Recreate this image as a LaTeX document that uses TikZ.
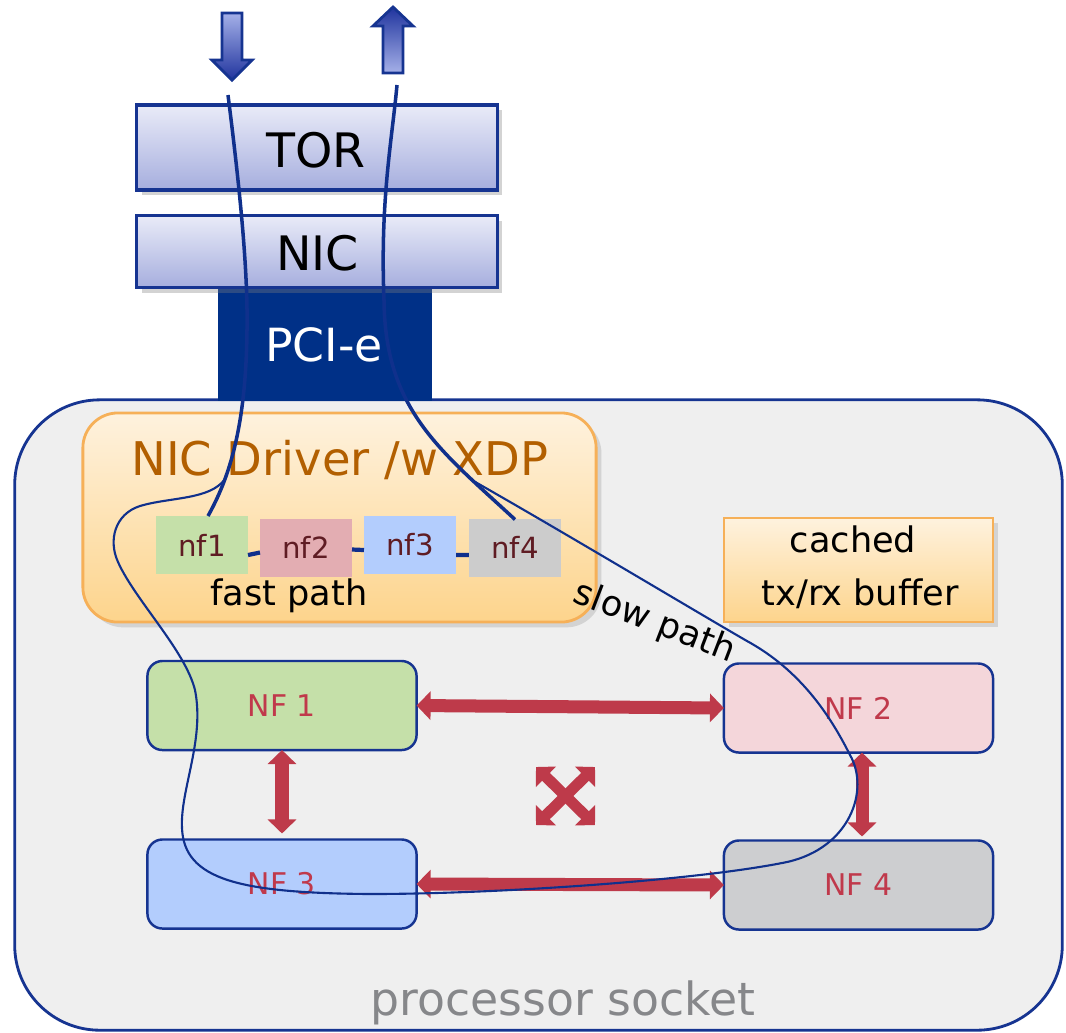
\documentclass[tikz,border=0pt]{standalone}
\usepackage{fontspec}
\setmainfont{DejaVu Sans}
\usetikzlibrary{arrows.meta,shadows,calc}
\definecolor{navy}{RGB}{16,48,140}
\definecolor{bordblue}{RGB}{22,52,145}
\definecolor{pcieblue}{RGB}{0,48,135}
\definecolor{layTop}{RGB}{233,235,248}
\definecolor{layBot}{RGB}{166,174,222}
\definecolor{arrLight}{RGB}{165,176,232}
\definecolor{arrDark}{RGB}{32,52,158}
\definecolor{sockfill}{RGB}{239,239,239}
\definecolor{socktext}{RGB}{134,135,138}
\definecolor{drvTop}{RGB}{254,242,222}
\definecolor{drvBot}{RGB}{253,212,140}
\definecolor{drvBorder}{RGB}{246,176,88}
\definecolor{drvText}{RGB}{178,95,0}
\definecolor{nfText}{RGB}{95,28,35}
\definecolor{nfA}{RGB}{197,224,169}
\definecolor{nfB}{RGB}{227,173,178}
\definecolor{nfC}{RGB}{179,205,253}
\definecolor{nfD}{RGB}{204,204,204}
\definecolor{NFB}{RGB}{244,214,218}
\definecolor{NFD}{RGB}{205,206,208}
\definecolor{NFText}{RGB}{192,57,75}
\definecolor{redc}{RGB}{190,58,74}
\tikzset{
  layer/.style={draw=bordblue, line width=0.9pt, top color=layTop, bottom color=layBot,
    minimum width=3.6cm, font=\fontsize{13.5}{16}\selectfont,
    drop shadow={shadow xshift=1.5pt, shadow yshift=-1.5pt, opacity=0.35}},
  smallnf/.style={minimum width=0.92cm, minimum height=0.58cm, text=nfText,
    font=\fontsize{8.3}{10}\selectfont},
  bignf/.style={draw=bordblue, line width=0.7pt, rounded corners=0.15cm,
    minimum width=2.69cm, minimum height=0.89cm, text=NFText,
    font=\fontsize{8.5}{10}\selectfont},
  orangebox/.style={draw=drvBorder, line width=0.8pt, top color=drvTop, bottom color=drvBot,
    drop shadow={shadow xshift=1.5pt, shadow yshift=-1.5pt, opacity=0.25}},
  redarr/.style={draw=redc, line width=0.13cm,
    arrows={Triangle[width=0.28cm,length=0.14cm]-Triangle[width=0.28cm,length=0.14cm]}},
  xarr/.style={draw=redc, line width=0.11cm,
    arrows={Triangle[width=0.28cm,length=0.14cm]-Triangle[width=0.28cm,length=0.14cm]}},
  thickpath/.style={draw=navy, line width=1.0pt},
  thinpath/.style={draw=navy, line width=0.6pt},
  lbl/.style={anchor=base, font=\fontsize{10}{12}\selectfont}
}
\begin{document}
\begin{tikzpicture}[x=0.01cm,y=-0.01cm, every node/.style={inner sep=0pt, outer sep=0pt}]
\useasboundingbox (0,0) rectangle (1066,1032);

% processor socket
\node[draw=bordblue, line width=0.8pt, fill=sockfill, rounded corners=0.85cm,
  minimum width=10.47cm, minimum height=6.30cm] (sock) at (538.5,715) {};
\node[anchor=base, text=socktext, font=\fontsize{13}{15}\selectfont] (sockl) at (563,1015) {processor socket};

% PCI-e
\node[fill=pcieblue, minimum width=2.14cm, minimum height=1.14cm] (pci) at (325,344) {};
\node[anchor=base, text=white, font=\fontsize{13}{16}\selectfont] (pcil) at (324,361) {PCI-e};

% TOR and NIC
\node[layer, minimum height=0.85cm] (tor) at (317,147.5) {};
\node[anchor=base, font=\fontsize{13.5}{16}\selectfont] (torl) at (316,167) {TOR};
\node[layer, minimum height=0.72cm] (nic) at (317,251.5) {};
\node[anchor=base, font=\fontsize{13.5}{16}\selectfont] (nicl) at (317.5,270) {NIC};

% top block arrows
\shadedraw[top color=arrLight, bottom color=arrDark, draw=bordblue, line width=0.8pt]
  (222,13) -- (242,13) -- (242,60) -- (252,60) -- (232,80) -- (212,60) -- (222,60) -- cycle;
\shadedraw[top color=arrDark, bottom color=arrLight, draw=bordblue, line width=0.8pt]
  (383,73) -- (403,73) -- (403,26) -- (413,26) -- (393,7) -- (373,26) -- (383,26) -- cycle;

% NIC driver box
\node[orangebox, rounded corners=0.35cm, minimum width=5.13cm, minimum height=2.09cm] (drv) at (339.5,517.5) {};
\node[anchor=base, text=drvText, font=\fontsize{13.2}{15}\selectfont] (drvl) at (340,475) {NIC Driver /w XDP};

% small nf boxes
\node[smallnf, fill=nfA] (nf1) at (202,545) {nf1};
\node[smallnf, fill=nfB] (nf2) at (306,547.5) {nf2};
\node[smallnf, fill=nfC] (nf3) at (410,545) {nf3};
\node[smallnf, fill=nfD] (nf4) at (515,547.5) {nf4};
\node[lbl] (fastl) at (289,605) {fast path};

% cached buffer
\node[orangebox, minimum width=2.69cm, minimum height=1.04cm] (cache) at (858.5,570) {};
\node[lbl] (cache1) at (853,552) {cached};
\node[lbl] (cache2) at (860,605) {tx/rx buffer};

% slow path label
\node[lbl, rotate=-21] (slowl) at (651,632) {slow path};

% big NF boxes
\node[bignf, fill=nfA] (NF1) at (282,705.5) {NF 1};
\node[bignf, fill=NFB] (NF2) at (858.5,708) {NF 2};
\node[bignf, fill=nfC] (NF3) at (282,884) {NF 3};
\node[bignf, fill=NFD] (NF4) at (858.5,885) {NF 4};

% red arrows
\draw[redarr] (NF1.east) -- (NF2.west);
\draw[redarr] (NF3.east) -- (NF4.west);
\draw[redarr] (NF1.south) -- ([yshift=0.06cm]NF3.north);
\draw[redarr] ([xshift=0.035cm]NF2.south) -- ([xshift=0.035cm, yshift=0.04cm]NF4.north);
\coordinate (xa) at (536,767);
\coordinate (xb) at (595,825);
\coordinate (xc) at (595,767);
\coordinate (xd) at (536,825);
\draw[xarr] (xa) -- (xb);
\draw[xarr] (xc) -- (xd);

% fast path links
\draw[navy, line width=1.2pt] ([yshift=-0.10cm]nf1.east) -- ([yshift=-0.05cm]nf2.west);
\draw[navy, line width=1.2pt] ([yshift=-0.02cm]nf2.east) -- ([yshift=-0.05cm]nf3.west);
\draw[navy, line width=1.2pt] ([yshift=-0.10cm]nf3.east) -- ([yshift=-0.075cm]nf4.west);

% packet paths
\coordinate (inA) at (228,95);
\coordinate (outB) at (397,85);
\coordinate (brA) at (225,479);
\coordinate (brB) at (470,479);
\draw[thickpath] (inA) .. controls (240,190) and (248,270) .. (247,330)
  .. controls (246,430) and (228,480) .. ([xshift=0.06cm]nf1.north);
\draw[thickpath] ([yshift=-0.01cm]nf4.north) .. controls (440,450) and (385,410) .. (384,300)
  .. controls (380,200) and (392,140) .. (outB);
\draw[thinpath] (brA) .. controls (210,500) and (170,497) .. (140,506)
  .. controls (115,514) and (108,540) .. (118,562)
  .. controls (135,600) and (185,650) .. (195,690)
  .. controls (205,740) and (180,790) .. (182,828)
  .. controls (184,880) and (240,893) .. (370,894)
  .. controls (500,894) and (700,880) .. (787,862)
  .. controls (850,848) and (870,790) .. (850,755)
  .. controls (830,715) and (800,670) .. (747,641)
  .. controls (700,614) and (560,530) .. (brB);
\end{tikzpicture}
\end{document}
